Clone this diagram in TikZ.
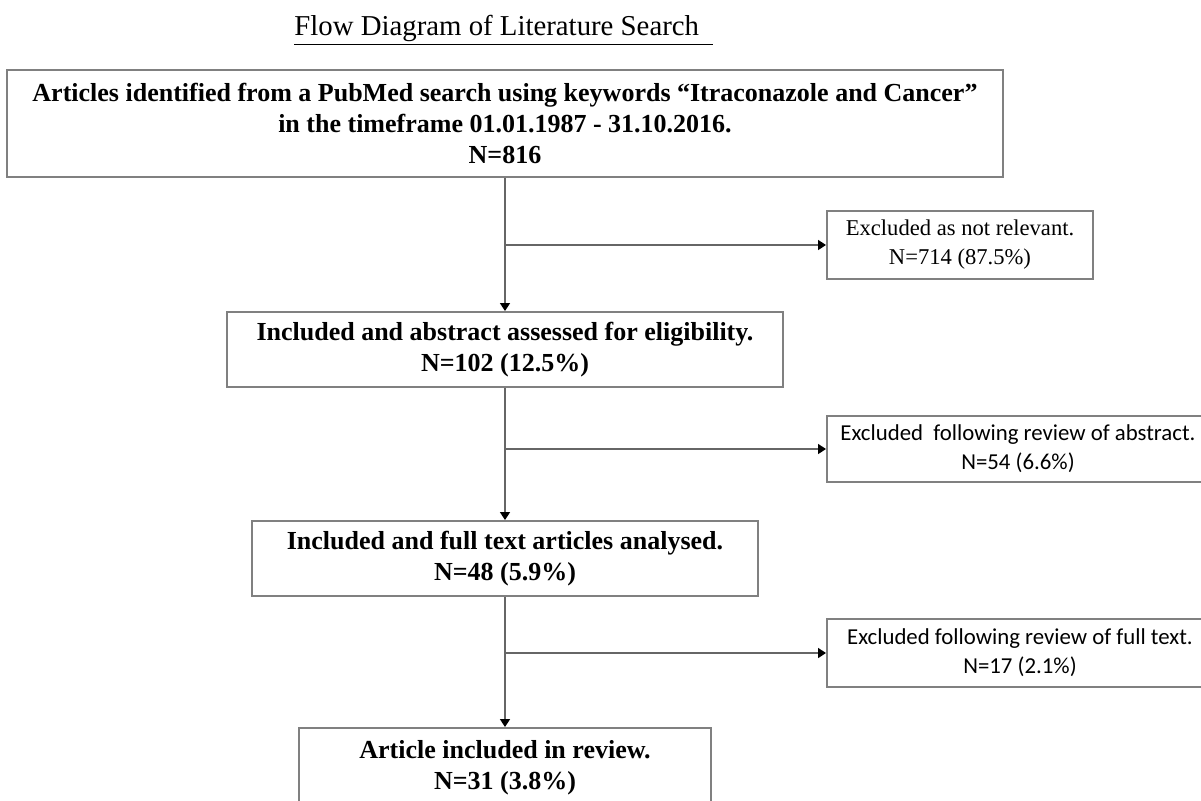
\documentclass[tikz,border=0pt]{standalone}
\usepackage{fontspec}
\setmainfont{Liberation Serif}
\newfontfamily\calibri{Carlito}
\usetikzlibrary{arrows.meta}

\begin{document}
\begin{tikzpicture}[x=0.5pt,y=-0.5pt]
\tikzstyle{every node}+=[inner sep=0pt]
\tikzstyle{box}=[draw=black!50, line width=1pt, align=center, font=\fontsize{13}{15.5}\selectfont\bfseries]
\tikzstyle{exbox}=[draw=black!50, line width=1pt, align=center, font=\fontsize{11.3}{14.5}\selectfont]
\tikzstyle{exsans}=[exbox, font=\calibri\fontsize{11.4}{14.5}\selectfont]
\tikzstyle{link}=[draw=black!60, line width=0.8pt]
\tikzstyle{tip}=[-{Triangle[length=4pt,width=5pt,black]}]
\useasboundingbox (0,0) rectangle (1201,800);
\node (title) at (294,35) [anchor=base west, font=\fontsize{14.4}{17}\selectfont] {\underline{Flow Diagram of Literature Search\ \ }};
\coordinate (spine) at (505,0);
% main column
\node (found) at (505,123.5) [box, minimum width=498pt, minimum height=53.5pt] {Articles identified from a PubMed search using keywords “Itraconazole and Cancer”\\in the timeframe 01.01.1987 - 31.10.2016.\\N=816};
\node (abst) at (505,349.5) [box, minimum width=278pt, minimum height=37.5pt] {Included and abstract assessed for eligibility.\\N=102 (12.5\%)};
\node (full) at (505,558.5) [box, minimum width=253pt, minimum height=37.5pt] {Included and full text articles analysed.\\N=48 (5.9\%)};
\node (final) at (505,768) [box, minimum width=206pt, minimum height=40pt] {Article included in review.\\N=31 (3.8\%)};
% excluded boxes
\node (notrel) at (960,245) [exbox, minimum width=133pt, minimum height=34pt] {Excluded as not relevant.\\N=714 (87.5\%)};
\node (exabst) at (1018,449) [exsans, minimum width=191pt, minimum height=33pt] {Excluded\ \ following review of abstract.\\N=54 (6.6\%)};
\node (exfull) at (1020,653) [exsans, minimum width=193pt, minimum height=34pt] {Excluded following review of full text.\\N=17 (2.1\%)};
% connectors
\draw [link, tip] (found.south -| spine) -- (abst.north -| spine);
\draw [link, tip] (abst.south -| spine) -- (full.north -| spine);
\draw [link, tip] (full.south -| spine) -- (final.north -| spine);
\draw [link, tip] (spine |- notrel.west) -- (notrel.west);
\draw [link, tip] (spine |- exabst.west) -- (exabst.west);
\draw [link, tip] (spine |- exfull.west) -- (exfull.west);
\end{tikzpicture}
\end{document}
